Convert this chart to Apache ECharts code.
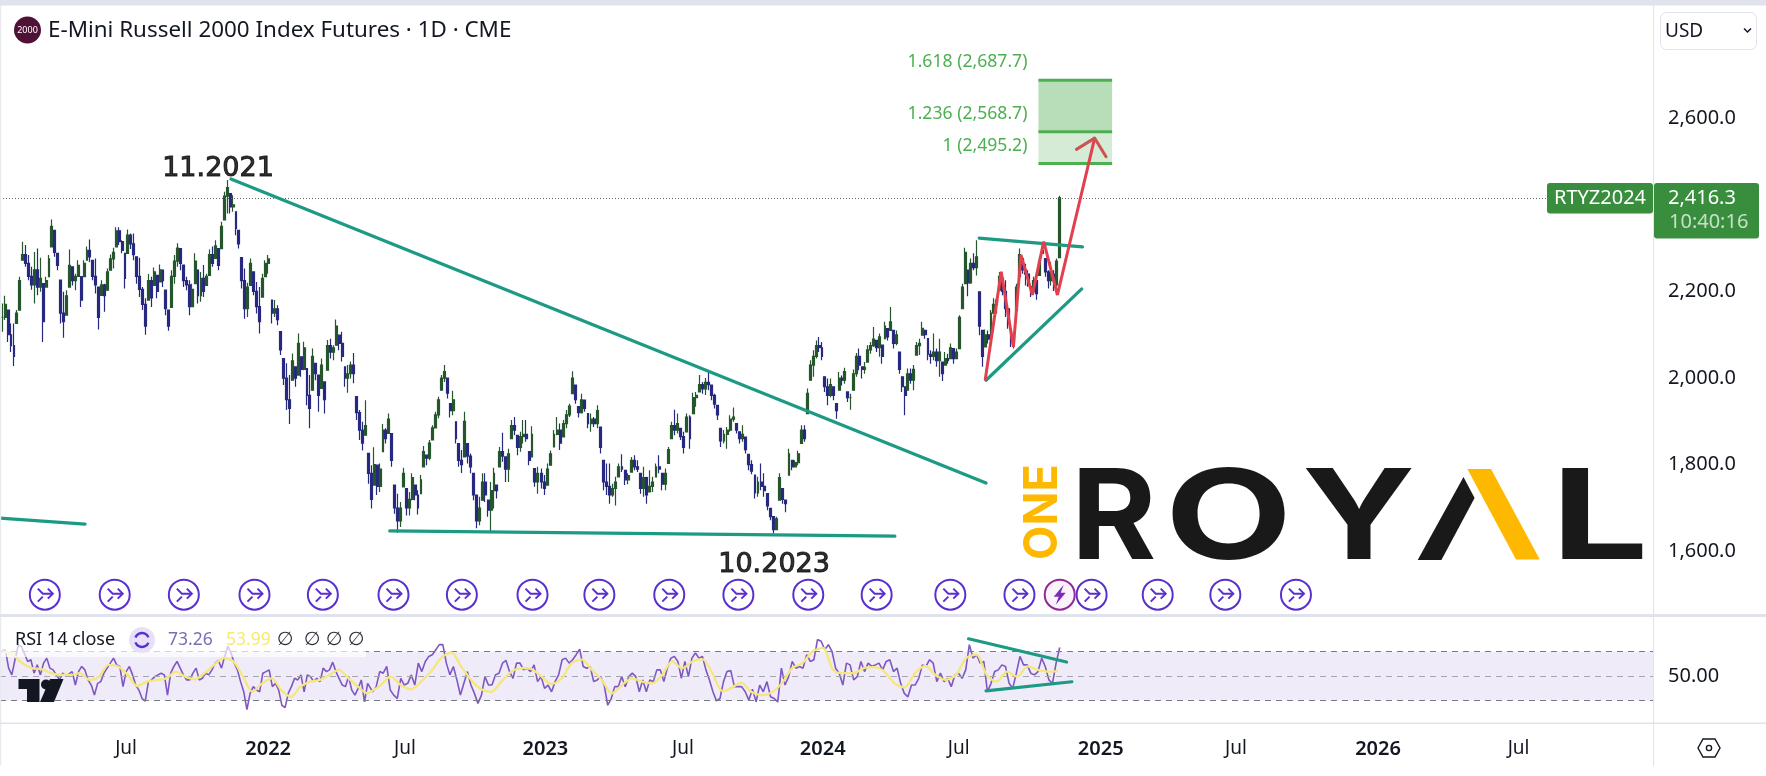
<!DOCTYPE html>
<html><head><meta charset="utf-8">
<script src="https://cdn.jsdelivr.net/npm/echarts@6/dist/echarts.min.js"></script>
<style>html,body{margin:0;padding:0;background:#fff}#c{width:1766px;height:776px}</style>
</head><body><div id="c"></div>
<script>
// ---- price readings: [high, low, close], one reading about every 3-4 days
const candlesA=[[2172,2107,2140],[2190,2134,2170],[2157,2083,2100],[2126,2060,2075],[2126,2028,2050],[2157,2126,2150],[2234,2157,2225],[2315,2272,2285],[2307,2257,2265],[2284,2226,2235],[2257,2204,2215],[2291,2172,2250],[2299,2191,2210],[2278,2199,2230],[2218,2083,2130],[2234,2210,2225],[2284,2234,2275],[2366,2303,2350],[2341,2280,2290],[2288,2249,2260],[2226,2126,2150],[2199,2093,2130],[2203,2145,2190],[2297,2210,2260],[2257,2214,2225],[2241,2203,2235],[2272,2234,2260],[2234,2164,2180],[2272,2234,2265],[2304,2272,2295],[2320,2268,2280],[2272,2226,2235],[2276,2195,2215],[2210,2112,2140],[2226,2191,2215],[2218,2153,2190],[2253,2203,2245],[2285,2249,2275],[2301,2253,2290],[2348,2303,2340],[2348,2307,2315],[2318,2288,2295],[2288,2207,2230],[2343,2288,2330],[2334,2298,2310],[2334,2272,2285],[2280,2218,2235],[2278,2187,2205],[2210,2157,2170],[2184,2100,2120],[2240,2180,2225],[2234,2164,2185],[2255,2214,2245],[2237,2184,2200],[2262,2222,2250],[2249,2210,2225],[2203,2145,2160],[2157,2109,2120],[2249,2163,2235],[2284,2218,2270],[2311,2257,2300],[2299,2249,2265],[2261,2210,2225],[2234,2203,2215],[2226,2145,2165],[2218,2164,2205],[2288,2218,2270],[2249,2172,2190],[2245,2176,2230],[2261,2187,2200],[2241,2214,2235],[2297,2237,2285],[2304,2257,2265],[2318,2276,2305],[2299,2249,2260],[2361,2299,2350],[2430,2365,2420],[2457,2380,2440],[2426,2380,2395],[2422,2384,2400],[2384,2330,2345],[2341,2299,2310],[2278,2207,2225],[2253,2137,2160],[2220,2141,2210],[2276,2214,2265],[2245,2191,2200],[2222,2149,2165],[2210,2103,2130],[2241,2187,2230],[2272,2234,2265],[2284,2241,2275]];
const candlesB=[[2180,2126,2150],[2180,2141,2160],[2168,2122,2135],[2107,2053,2065],[2045,1984,2000],[2034,1926,1950],[2007,1894,1930],[2057,1995,2040],[2026,1980,2000],[2103,2007,2080],[2049,2003,2020],[2084,2018,2070],[2022,1937,1960],[2007,1884,1930],[2068,1972,2050],[2034,1995,2010],[2007,1922,1960],[2045,1976,2030],[1991,1918,1950],[2088,2018,2075],[2091,2045,2060],[2076,2041,2070],[2135,2076,2120],[2099,2064,2080],[2107,2038,2050],[2026,1980,2000],[2030,1966,2010],[2038,1999,2030],[2058,1988,2010],[1957,1903,1920],[1926,1857,1880],[1899,1833,1850],[1949,1868,1890],[1826,1756,1780],[1799,1699,1720],[1840,1753,1800],[1799,1730,1750],[1803,1737,1790],[1894,1830,1880],[1884,1849,1860],[1918,1872,1905],[1872,1795,1810],[1753,1687,1700],[1733,1643,1670],[1714,1656,1700],[1793,1749,1780],[1745,1683,1700],[1737,1683,1720],[1780,1718,1770],[1753,1718,1730],[1741,1685,1700],[1776,1733,1765],[1843,1795,1830],[1822,1799,1815],[1857,1810,1850],[1891,1857,1885],[1922,1884,1915],[1957,1907,1950],[2007,1972,2000],[2030,1991,2015],[2000,1953,1965],[1941,1909,1925],[1971,1914,1950],[1899,1849,1860],[1849,1795,1810],[1834,1781,1800],[1922,1818,1900],[1849,1803,1820],[1826,1780,1795],[1780,1718,1730],[1730,1653,1670],[1726,1660,1700],[1780,1718,1760],[1780,1714,1730],[1718,1680,1695],[1760,1645,1740],[1793,1699,1780],[1753,1722,1740],[1841,1795,1830],[1874,1807,1820],[1818,1760,1790],[1837,1760,1825],[1903,1860,1890],[1910,1868,1880],[1868,1822,1840],[1876,1830,1865],[1903,1849,1870],[1903,1853,1860],[1830,1799,1810],[1889,1818,1870],[1791,1749,1760],[1795,1733,1780]];
const candlesC=[[1791,1745,1760],[1776,1730,1745],[1803,1753,1790],[1833,1799,1825],[1880,1841,1870],[1910,1868,1880],[1895,1834,1850],[1903,1864,1895],[1926,1884,1915],[1941,1910,1935],[2016,1964,2000],[1984,1941,1950],[1934,1909,1920],[1964,1918,1950],[1949,1922,1930],[1918,1884,1895],[1918,1876,1905],[1910,1887,1895],[1937,1884,1925],[1887,1826,1840],[1810,1741,1760],[1803,1730,1750],[1803,1710,1730],[1756,1726,1745],[1772,1706,1760],[1803,1772,1795],[1824,1783,1790],[1787,1753,1765],[1780,1755,1775],[1818,1783,1810],[1822,1787,1795],[1810,1783,1790],[1780,1733,1745],[1795,1726,1770],[1772,1710,1730],[1787,1737,1750],[1772,1737,1760],[1803,1772,1795],[1822,1780,1790],[1780,1741,1755],[1791,1741,1780],[1841,1803,1835],[1899,1860,1890],[1927,1868,1880],[1918,1872,1895],[1884,1857,1865],[1876,1826,1840],[1918,1876,1910],[1914,1837,1860],[1966,1918,1955],[1968,1934,1960],[2007,1968,1985],[1991,1964,1975],[2000,1961,1990],[2014,1972,1985],[1984,1949,1960],[1964,1930,1940],[1937,1903,1915],[1884,1841,1855],[1880,1849,1870],[1887,1837,1880],[1914,1876,1905],[1932,1899,1910],[1895,1872,1880],[1876,1849,1860],[1891,1853,1870],[1864,1826,1835],[1824,1787,1800],[1810,1778,1785],[1776,1722,1735],[1772,1726,1760],[1803,1741,1750],[1780,1726,1740],[1733,1695,1705],[1699,1672,1680],[1680,1641,1650],[1680,1649,1675],[1780,1718,1770],[1745,1710,1720],[1718,1690,1710],[1837,1776,1825],[1810,1787,1795],[1810,1795,1805],[1832,1799,1825],[1891,1849,1880],[1891,1853,1860],[1976,1918,1965]];
const candlesD=[[2041,1995,2030],[2064,2003,2050],[2087,2045,2075],[2095,2060,2070],[2083,2041,2050],[2003,1968,1980],[1999,1937,1960],[1999,1956,1985],[1980,1949,1960],[1941,1906,1925],[2014,1972,2000],[2006,1983,1995],[2024,1987,2015],[1968,1945,1955],[1964,1927,1955],[2020,1972,2010],[2058,2003,2050],[2068,2018,2030],[2026,1999,2020],[2037,2010,2025],[2076,2037,2065],[2083,2056,2075],[2118,2072,2090],[2087,2060,2070],[2103,2049,2095],[2076,2033,2050],[2130,2091,2120],[2114,2087,2095],[2164,2110,2130],[2110,2068,2080],[2110,2076,2100],[2060,2010,2020],[2003,1968,1980],[1980,1914,1960],[2022,1972,2010],[2022,1987,1995],[2030,1972,2020],[2083,2053,2075],[2091,2053,2080],[2130,2099,2115],[2110,2091,2100],[2091,2041,2055],[2064,2033,2050],[2103,2041,2060],[2068,2026,2040],[2091,2003,2060],[2037,1993,2010],[2060,2030,2045],[2056,2033,2040],[2080,2045,2070],[2068,2033,2045],[2068,2045,2060],[2145,2068,2140],[2218,2160,2210],[2301,2218,2290],[2249,2189,2220],[2276,2218,2265],[2288,2249,2255],[2318,2237,2280],[2199,2099,2120],[2110,2026,2050],[2112,2072,2100],[2110,2080,2090],[2157,2087,2150],[2184,2149,2170],[2187,2149,2180],[2245,2203,2235],[2230,2191,2200],[2226,2141,2160],[2164,2114,2125],[2110,2072,2085],[2107,2068,2100],[2218,2157,2210],[2299,2234,2285],[2276,2241,2250],[2264,2214,2240],[2249,2211,2220],[2211,2187,2200],[2234,2199,2225],[2234,2181,2195],[2280,2237,2270],[2314,2288,2295],[2276,2234,2245],[2249,2207,2225],[2268,2214,2240],[2249,2201,2215],[2276,2191,2270],[2421,2278,2416.3]];
const panelSpans=[['2021-01-16','2022-01-01'],['2022-01-06','2022-12-22'],['2022-12-27','2023-12-12'],['2023-12-16','2024-11-08']];

// ---- RSI readings
const rsiA=[71.5,71,56.4,50.9,63.3,74.8,74.3,68.2,61.9,63.3,52.3,59.1,50.9,60.5,64.6,56.4,55,50.9,46.8,52.3,50,51.7,53.6,42.6,53.6,57.8,55,46.8,42.6,34.4,44,45.4,52.3,56.4,60.5,64.6,59.1,57.8,41.3,53.6,57.8,50.9,42.6,38.5,31.6,29.4,45.4,46.8,49.5,50.9,52.3,50.9,34.4,52.3,57.8,61.9,56.4,50.9,46.8,46.8,52.3,56.4,46.8,48.1,52.3,50.9,55,60.5,62.7,56.4,66,74.3,68.8,60.5,55,45.4,37.1,22.6,35.8,41.3,38.5,37.1,52.3,53.6,55,41.3,44,38.5,26.1,24.2,35.8,41.3,48.1,46.8,50.9,37.1,50.9,49.5,45.4,48.1,45.4,56.4,53.6,55,61.3,53.6,48.1,42.6,41.3,49.5,38.5,34.4,39.9,46.8,28.9,44];
const rsiB=[45.4,37.1,41.3,53.6,52.3,57.8,38.5,34.4,31.6,48.1,42.6,44,50.9,42.6,60.5,53.6,61.9,66,67.4,71.5,75.6,75.6,60.5,50.9,57.8,46.8,34.4,44,53.6,42.6,35.8,27.5,34.4,49.5,42.6,42.6,50.9,52.3,60.5,62.7,53.6,48.1,60.5,60.5,55,56.4,53.6,59.1,45.4,49.5,39.9,42.6,37.1,45.4,50.9,63.3,64.6,60.5,63.3,67.4,72,57.8,56.4,57.8,45.4,46.8,49.5,42.6,26.1,31.6,41.3,41.3,49.5,41.3,49.5,52.3,49.5,37.1,46.8,37.1,46.8,45.4,55,55,45.4,56.4,64.6,66,61.9,48.1,61.9,49.5,64.6,68.8,64.6,66,55,46.8,37.1,29.7,31.6,45.4,53.6];
const rsiC=[54.4,41.3,41.3,41.3,37.1,30.3,39.1,28.9,42.6,37.1,45.4,33,31.6,28.9,56.4,42.6,49.5,61.9,56.4,57.8,56.4,67.4,61.9,63.3,79.8,78.4,71.5,75.6,70.1,56.4,52.3,42.6,60.5,59.1,46.8,49.5,61.9,53.6,60.5,57.8,59.1,60.5,55,61.9,63.3,53.6,56.4,44,35.8,33,42.6,42.6,48.1,59.1,57.8,63.3,60.5,45.4,52.3,45.4,48.1,41.3,50.9,52.3,48.1,55,75.6,64.6,67.4,60.5,61.9,37.1,44,53.6,55,59.1,57.8,44,39.9,52.3,66,59.1,59.1,52.3,50.9,53.6,64.6,57.8,46.8,44,60.5,73.26];
const rsiSpans=[['2021-01-16','2022-05-12'],['2022-05-14','2023-08-28'],['2023-09-02','2024-11-08']];
const maA=[70.1,67.4,60.5,56.4,55.6,52.3,50.9,50.9,52.3,46.8,49.5,59.1,57.8,50.9,41.8,45.4,46.8,48.1,53.6,49.5,47.3,52.3,59.1,64.6,61.9,49.5,37.1,44,48.1,38.5,33,41.3,45.4,46.8,50.9,55,48.1,41.3,35.8];
const maB=[37.1,42.6,49.5,42.6,39.1,45.4,53.6,64.6,69.3,57.8,46.8,39.1,37.1,45.4,53.6,56.4,55.6,49.5,43.5,48.1,60.5,63.3,55,46.8,35.8,42.6,48.1,45.4,44,50.9,61.9,56.4,61.9,63.8,52.3,37.7];
const maC=[39.9,44.6,37.1,34.4,36.6,44,56.4,60.5,70.1,72.9,55,52.3,52.3,56.4,57.2,53.6,44,40.7,52.3,58.3,50.9,46.8,50.9,64.6,67.4,50.9,45.4,53.6,49.5,57.8,55,53.6,53.99];

// ---- axes
const priceTicks=[1600,1800,2000,2200,2600];
const timeTickDates=['2021-06-28','2022-01-01','2022-06-30','2023-01-01','2023-07-01','2024-01-01','2024-06-28','2025-01-01','2025-06-28','2026-01-01','2026-07-05'];
const timeTickLabels=['Jul','2022','Jul','2023','Jul','2024','Jul','2025','Jul','2026','Jul'];
const axisStart='2021-01-13', axisEnd='2026-12-29';

// ---- drawings
const downTrend=[['2021-11-13',2459.6],['2024-08-03',1757.5]];
const baseLine=[['2022-06-10',1647],['2024-04-05',1635]];
const oldLine=[['2021-01-13',1676.7],['2021-05-05',1663]];
const triUpper=[['2024-07-25',2323],['2024-12-08',2303]];
const triLower=[['2024-08-03',1995],['2024-12-07',2206]];
const zigzag=[['2024-08-02',1997],['2024-08-23',2245.5],['2024-09-08',2072],['2024-09-18',2284.5],['2024-10-03',2192],['2024-10-18',2315],['2024-11-05',2192],['2024-12-24',2554]];
const arrowHead=[['2024-11-30',2528],['2024-12-24',2554],['2025-01-08',2511]];
const rsiTriUpper=[['2024-07-11',80.4],['2024-11-17',61.4]];
const rsiTriLower=[['2024-08-03',37.8],['2024-11-24',45.3]];
const fibLevels=['1','1.236','1.618'];
const fibPrices=[2495.2,2568.7,2687.7];
const fibSpan=['2024-10-11','2025-01-16'];
const lastPrice=2416.3;
const rolloverDates=['2021-03-13','2021-06-13','2021-09-12','2021-12-14','2022-03-14','2022-06-15','2022-09-13','2022-12-15','2023-03-13','2023-06-13','2023-09-12','2023-12-13','2024-03-12','2024-06-17','2024-09-16','2024-12-20','2025-03-17','2025-06-14','2025-09-15'];
const boltDates=['2024-11-08'];
const iconPrice=1500;
const noteTexts=[['11.2021','2021-10-27',2482.7],['10.2023','2023-10-29',1568]];

const FONT='"Noto Sans",sans-serif';
const ms=s=>Date.parse(s);
function spread(span,n){const a=ms(span[0]),b=ms(span[1]);return i=>n>1?a+(b-a)*i/(n-1):a;}
const candleX=[],candleV=[];
[candlesA,candlesB,candlesC,candlesD].forEach((p,k)=>{
  const f=spread(panelSpans[k],p.length);
  p.forEach((r,i)=>{candleX.push(f(i));candleV.push(r);});
});
let prev=candleV[0][2];
const candleData=candleV.map((r,i)=>{
  const open=Math.min(r[0],Math.max(r[1],prev));prev=r[2];
  return [candleX[i],open,r[2],r[1],r[0]];
});
function joined(arrs,spans){const out=[];arrs.forEach((p,k)=>{const f=spread(spans[k],p.length);p.forEach((v,i)=>out.push([f(i),v]));});return out;}
const rsiData=joined([rsiA,rsiB,rsiC],rsiSpans);
const maSpans=[['2021-01-17','2022-05-12'],['2022-05-16','2023-08-22'],['2023-09-02','2024-11-06']];
const maData=joined([maA,maB,maC],maSpans);

const TEAL='#1d9a83', RED='#e2404f', GREEN='#4caf50';
function seg(name,pts,color,width,pane){
  return {name,type:'line',xAxisIndex:pane,yAxisIndex:pane,data:pts.map(p=>[ms(p[0]),p[1]]),showSymbol:false,silent:true,
    lineStyle:{color,width,cap:'round'},z:6,clip:false};
}
const chart=echarts.init(document.getElementById('c'),null,{renderer:'canvas'});
const tickVals=timeTickDates.map(ms);
const axisLine={show:false},splitLine={show:false};

function iconRender(params,api){
  const pt=api.coord([api.value(0),api.value(1)]);
  const c='#5a2fd0';
  const st={stroke:c,lineWidth:2,fill:null};
  return {type:'group',x:pt[0],y:pt[1],children:[
    {type:'circle',shape:{cx:0,cy:0,r:15},style:{fill:'#fff',stroke:c,lineWidth:2}},
    {type:'polyline',shape:{points:[[-7,-6],[-2,-1],[8,-1]]},style:st},
    {type:'polyline',shape:{points:[[3,-6],[8,-1],[3,4]]},style:st},
    {type:'polyline',shape:{points:[[-7,7],[-2,2]]},style:st}
  ]};
}
function boltRender(params,api){
  const pt=api.coord([api.value(0),api.value(1)]);
  return {type:'group',x:pt[0],y:pt[1],z2:5,children:[
    {type:'circle',shape:{cx:0,cy:0,r:15},style:{fill:'#fbf3fc',stroke:'#93279a',lineWidth:2}},
    {type:'polygon',shape:{points:[[4,-10],[-6,2],[-1,2],[-4,10],[6,-2],[1,-2]]},style:{fill:'#7a2ab8'}}
  ]};
}
function fibRender(params,api){
  const i=params.dataIndex;
  const p=api.value(0);
  const a=api.coord([ms(fibSpan[0]),p]), b=api.coord([ms(fibSpan[1]),p]);
  const kids=[];
  if(i<fibPrices.length-1){
    const t=api.coord([ms(fibSpan[0]),fibPrices[i+1]]);
    kids.push({type:'rect',shape:{x:a[0],y:t[1],width:b[0]-a[0],height:a[1]-t[1]},style:{fill:i===0?'#d6ebd6':'#b7deb9'}});
  }
  kids.push({type:'line',shape:{x1:a[0],y1:a[1],x2:b[0],y2:a[1]},style:{stroke:GREEN,lineWidth:3}});
  kids.push({type:'text',x:a[0]-11,y:a[1]-18,style:{text:fibLevels[i]+' ('+p.toLocaleString('en-US',{minimumFractionDigits:1})+')',fill:GREEN,font:'17.6px '+FONT,textAlign:'right',textVerticalAlign:'middle'}});
  return {type:'group',children:kids};
}

const series=[
  {type:'custom',xAxisIndex:0,yAxisIndex:0,renderItem:fibRender,data:fibPrices.map(p=>[p]),encode:{y:0},silent:true,z:2,clip:false},
  {name:'price',type:'candlestick',xAxisIndex:0,yAxisIndex:0,data:candleData,barWidth:2.4,encode:{x:0,y:[1,2,3,4]},z:3,silent:true,
    itemStyle:{color:'#25562c',color0:'#27287f',borderColor:'#25562c',borderColor0:'#27287f',borderWidth:1.2},
    markLine:{silent:true,symbol:'none',label:{show:false},animation:false,data:[{yAxis:lastPrice}],lineStyle:{color:'#666',width:1,type:[1,2]}}},
  seg('downTrend',downTrend,TEAL,3.2,0),
  seg('baseLine',baseLine,TEAL,3.2,0),
  seg('oldLine',oldLine,TEAL,3.2,0),
  seg('triUpper',triUpper,TEAL,3.2,0),
  seg('triLower',triLower,TEAL,3.2,0),
  seg('zigzag',zigzag,RED,3,0),
  seg('arrowHead',arrowHead,'#cc5450',3,0),
  {type:'custom',xAxisIndex:0,yAxisIndex:0,renderItem:iconRender,data:rolloverDates.map(d=>[ms(d),iconPrice]),encode:{x:0,y:1},silent:true,z:7,clip:false},
  {type:'custom',xAxisIndex:0,yAxisIndex:0,renderItem:boltRender,data:boltDates.map(d=>[ms(d),iconPrice]),encode:{x:0,y:1},silent:true,z:7,clip:false},
  {type:'scatter',xAxisIndex:0,yAxisIndex:0,symbolSize:0,silent:true,z:8,clip:false,data:noteTexts.map(n=>({value:[ms(n[1]),n[2]],label:{show:true,formatter:n[0],position:'inside',color:'#000',fontSize:27,fontFamily:'DejaVu Sans',textBorderColor:'#000',textBorderWidth:1}}))},
  {name:'RSI',type:'line',xAxisIndex:1,yAxisIndex:1,data:rsiData,showSymbol:false,silent:true,z:4,
    lineStyle:{color:'#7e57c2',width:1.6},
    markArea:{silent:true,animation:false,itemStyle:{color:'#efebf9'},data:[[{yAxis:30},{yAxis:70}]]},
    markLine:{silent:true,animation:false,symbol:'none',label:{show:false},data:[
      {yAxis:70,lineStyle:{color:'#787b86',type:[6,5],width:1}},
      {yAxis:50,lineStyle:{color:'#a3a6af',type:[6,5],width:1}},
      {yAxis:30,lineStyle:{color:'#787b86',type:[6,5],width:1}}]}},
  {name:'RSI MA',type:'line',xAxisIndex:1,yAxisIndex:1,data:maData,smooth:0.3,showSymbol:false,silent:true,z:5,lineStyle:{color:'#f5e77c',width:2.3}},
  seg('rsiTriUpper',rsiTriUpper,TEAL,3.2,1),
  seg('rsiTriLower',rsiTriLower,TEAL,3.2,1)
];

const G=[];
const rect=(x,y,w,h,fill,z,r)=>G.push({type:'rect',z:z||50,shape:{x,y,width:w,height:h,r:r||0},style:{fill},silent:true});
const txt=(x,y,t,font,fill,o)=>G.push(Object.assign({type:'text',z:(o&&o.z)||60,x,y,silent:true,style:{text:t,font,fill,textAlign:(o&&o.align)||'left',textVerticalAlign:'middle'}},o&&o.extra||{}));
// frame
rect(0,0,1766,5.5,'#e0e3eb',70);
rect(0,5.5,1.2,760,'#e8eaef',70);
rect(0,614,1766,3,'#e0e3eb',70);
rect(0,722.5,1766,1.5,'#e0e3eb',70);
rect(1653,5,1,761,'#e0e3eb',70);
// title
G.push({type:'circle',z:60,silent:true,shape:{cx:27.5,cy:30,r:13.5},style:{fill:'#4f1236'}});
txt(27.5,30.5,'2000','9px '+FONT,'#fff',{align:'center'});
txt(48,31,'E-Mini Russell 2000 Index Futures · 1D · CME','22.4px "Noto Sans",sans-serif','#131722');
// USD box
G.push({type:'rect',z:60,silent:true,shape:{x:1660.5,y:12.5,width:96,height:37,r:6},style:{fill:'#fff',stroke:'#e0e3eb',lineWidth:1}});
txt(1665,32,'USD','19px '+FONT,'#131722');
G.push({type:'polyline',z:60,silent:true,shape:{points:[[1744,28.5],[1747.5,32],[1751,28.5]]},style:{stroke:'#131722',lineWidth:1.5,fill:null}});
// last price tag
rect(1547,183,106,30.5,'#388e3c',65,3);
txt(1600,198.5,'RTYZ2024','20px '+FONT,'#fff',{align:'center',z:66});
rect(1654,183,105,55.5,'#388e3c',65,3);
txt(1668,198.5,'2,416.3','20px '+FONT,'#fff',{z:66});
txt(1669,222,'10:40:16','20px '+FONT,'rgba(255,255,255,.72)',{z:66});
// settings hexagon
G.push({type:'polygon',z:60,silent:true,shape:{points:[[1703,739],[1715,739],[1720,748],[1715,757],[1703,757],[1698,748]]},style:{fill:'none',stroke:'#131722',lineWidth:1.4}});
G.push({type:'circle',z:60,silent:true,shape:{cx:1709,cy:748,r:2.6},style:{fill:'none',stroke:'#131722',lineWidth:1.4}});
// RSI legend
rect(0,628,366,29,'rgba(255,255,255,.68)',40);
txt(15,640,'RSI 14 close','18px '+FONT,'#131722');
G.push({type:'circle',z:60,silent:true,shape:{cx:142,cy:640,r:13},style:{fill:'#e7e1f8'}});
G.push({type:'arc',z:61,silent:true,shape:{cx:142,cy:640,r:7,startAngle:3.5,endAngle:5.9},style:{fill:'none',stroke:'#5a2fd0',lineWidth:2.4}});
G.push({type:'arc',z:61,silent:true,shape:{cx:142,cy:640,r:7,startAngle:0.4,endAngle:2.8},style:{fill:'none',stroke:'#5a2fd0',lineWidth:2.4}});
txt(168,640,'73.26','17.5px '+FONT,'#7e6bb5');
txt(226,640,'53.99','17.5px '+FONT,'#f7ea6c');
[285,312,334,356].forEach(x=>txt(x,640,'∅','19px "DejaVu Sans"','#2a2e39',{align:'center'}));
// TradingView watermark
G.push({type:'polygon',z:30,silent:true,shape:{points:[[18.5,679],[39.5,679],[39.5,702],[27,702],[27,689],[18.5,689]]},style:{fill:'#131722'}});
G.push({type:'circle',z:30,silent:true,shape:{cx:46,cy:684.5,r:5},style:{fill:'#131722'}});
G.push({type:'polygon',z:30,silent:true,shape:{points:[[50,679],[63.5,679],[54,702],[40,702]]},style:{fill:'#131722'}});
// ONE ROYAL logo
const K='#191919',Y='#ffb800',LF='700 125px Inter,sans-serif';
G.push({type:'text',z:20,silent:true,x:1066,y:560,rotation:Math.PI/2,scaleX:0.95,style:{text:'ONE',font:'700 47px Inter,sans-serif',fill:Y,textAlign:'left',textVerticalAlign:'bottom'}});
[['R',1071,1.04],['O',1165,1.32],['Y',1302,1.24],['L',1551,1.38]].forEach(a=>{
  G.push({type:'text',z:20,silent:true,x:a[1],y:521,scaleX:a[2],style:{text:a[0],font:LF,fill:K,textAlign:'left',textVerticalAlign:'middle'}});
});
G.push({type:'polygon',z:20,silent:true,shape:{points:[[1463.5,477],[1474.6,498],[1441.4,560],[1417.7,560]]},style:{fill:K}});
G.push({type:'polygon',z:20,silent:true,shape:{points:[[1467.4,469],[1491,469],[1539.8,559.5],[1516,559.5]]},style:{fill:Y}});

const timeAxis=(gridIndex,show)=>({type:'value',scale:true,gridIndex,min:ms(axisStart),max:ms(axisEnd),axisLine,axisTick:{show:false},splitLine,
  axisLabel:{show,margin:16,hideOverlap:false,showMinLabel:true,showMaxLabel:true,customValues:tickVals,
    formatter:v=>{const i=tickVals.indexOf(+v);if(i<0)return '';const t=timeTickLabels[i];return /\d/.test(t)?'{y|'+t+'}':'{m|'+t+'}';},
    rich:{y:{fontSize:20,fontWeight:600,fontFamily:'Noto Sans',color:'#131722'},m:{fontSize:19,fontFamily:'Noto Sans',color:'#131722'}}}});
chart.setOption({
  animation:false,backgroundColor:'#fff',
  grid:[{left:0,right:113,top:6,height:609},{left:0,right:113,top:617,height:106}],
  xAxis:[timeAxis(0,false),timeAxis(1,true)],
  yAxis:[
    {type:'value',gridIndex:0,position:'right',min:1453,max:2859,axisLine,axisTick:{show:false},splitLine,
      axisLabel:{customValues:priceTicks,margin:15,color:'#131722',fontSize:20,fontFamily:'Noto Sans',
        formatter:v=>Number(v).toLocaleString('en-US',{minimumFractionDigits:1,maximumFractionDigits:1})}},
    {type:'value',gridIndex:1,position:'right',min:11.6,max:98.2,axisLine,axisTick:{show:false},splitLine,
      axisLabel:{customValues:[50],margin:15,color:'#131722',fontSize:20,fontFamily:'Noto Sans',formatter:v=>Number(v).toFixed(2)}}
  ],
  series,
  graphic:{elements:G}
});
</script></body></html>
